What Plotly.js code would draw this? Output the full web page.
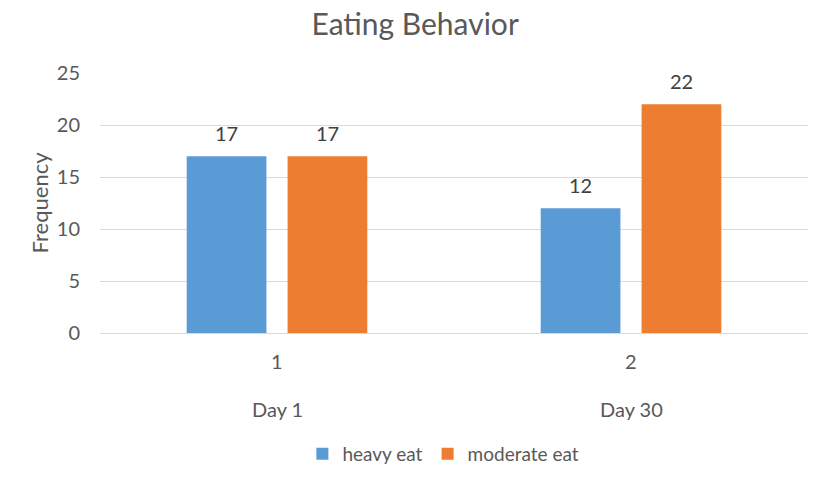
<!DOCTYPE html>
<html>
<head>
<meta charset="utf-8">
<script src="https://cdn.plot.ly/plotly-3.0.1.min.js"></script>
<style>html,body{margin:0;padding:0;background:#fff;}#chart{width:827px;height:487px;}</style>
</head>
<body>
<div id="chart"></div>
<script>
var categories = ["1", "2"];
var groupLabels = ["Day 1", "Day 30"];
var seriesNames = ["heavy eat", "moderate eat"];
var heavyEat = [17, 12];
var moderateEat = [17, 22];
var yTicks = [0, 5, 10, 15, 20, 25];

var FONT = "Lato, Open Sans, sans-serif";
var TXT = "#595959";
var COLORS = ["#5B9BD5", "#ED7D31"];
var SERIES = [heavyEat, moderateEat];
var BAR_OFFSET_PX = [-50.5, 50.5];

var traces = SERIES.map(function (vals, s) {
  return {type: "bar", name: seriesNames[s], x: categories, y: vals,
          marker: {color: COLORS[s]}, hoverinfo: "none"};
});

var annotations = [];
categories.forEach(function (c, i) {
  annotations.push({text: c, x: i, xref: "x", y: 0, yref: "paper", yshift: -28,
    showarrow: false, yanchor: "middle", font: {family: FONT, size: 20, color: TXT}});
  annotations.push({text: groupLabels[i], x: i, xref: "x", y: 0, yref: "paper", yshift: -76,
    showarrow: false, yanchor: "middle", font: {family: FONT, size: 20, color: TXT}});
  SERIES.forEach(function (vals, s) {
    annotations.push({text: String(vals[i]), x: i, xref: "x", xshift: BAR_OFFSET_PX[s],
      y: vals[i], yref: "y", yshift: 23, showarrow: false, yanchor: "middle",
      font: {family: FONT, size: 20, color: "#404040"}});
  });
});

var layout = {
  width: 827, height: 487,
  margin: {l: 100, r: 19, t: 73, b: 154},
  paper_bgcolor: "#fff", plot_bgcolor: "#fff",
  font: {family: FONT, color: TXT},
  title: {text: "Eating Behavior", x: 0.502, xanchor: "center", y: 0.949, yanchor: "middle",
          font: {family: FONT, size: 30, color: TXT}},
  barmode: "group", bargap: 0.43, bargroupgap: 0.21,
  showlegend: true,
  legend: {orientation: "h", x: 0.485, xanchor: "center", y: -0.465, yanchor: "middle",
           font: {family: FONT, size: 19, color: TXT}, itemwidth: 30, traceorder: "normal"},
  xaxis: {type: "category", range: [-0.5, 1.5], showgrid: false, showline: true,
          linecolor: "#D9D9D9", linewidth: 1, ticks: "", showticklabels: false,
          zeroline: false, fixedrange: true},
  yaxis: {range: [0, 25], tickvals: yTicks, ticktext: yTicks.map(String), showgrid: true,
          gridcolor: "#D9D9D9", gridwidth: 1, zeroline: false, showline: false, ticks: "",
          ticklabelstandoff: 19, tickfont: {family: FONT, size: 20, color: TXT},
          title: {text: "Frequency", standoff: 2, font: {family: FONT, size: 22, color: TXT}},
          fixedrange: true},
  annotations: annotations
};

Plotly.newPlot("chart", traces, layout, {displayModeBar: false, staticPlot: true});
</script>
</body>
</html>
